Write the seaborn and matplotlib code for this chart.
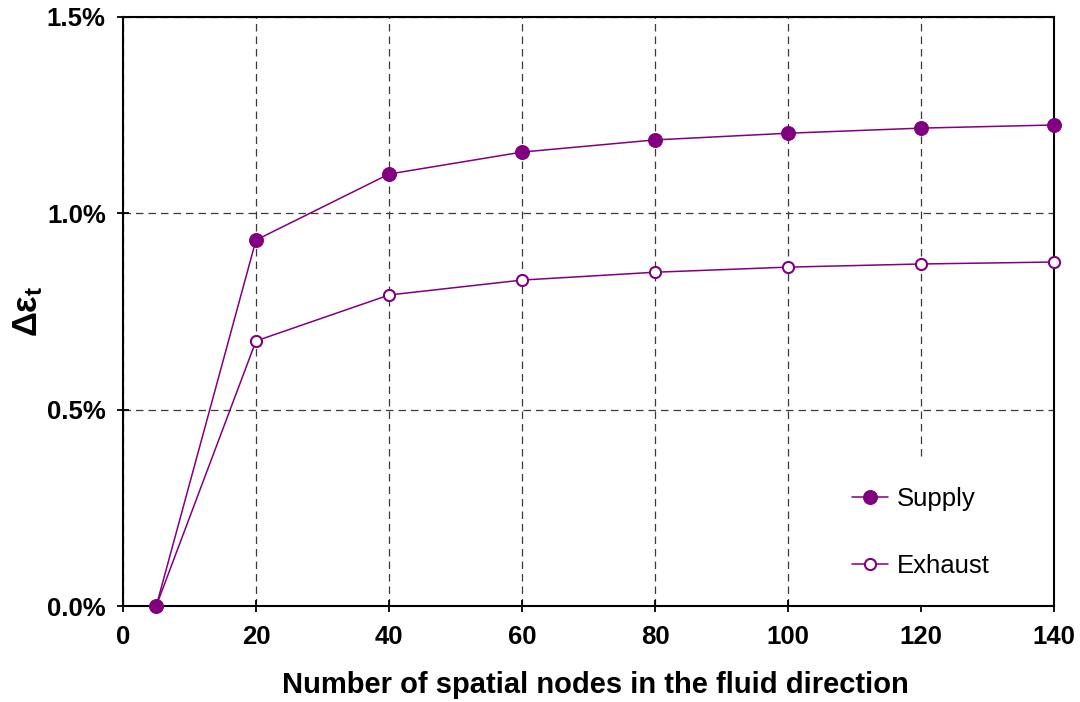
import matplotlib
matplotlib.use("Agg")
import matplotlib.pyplot as plt
from matplotlib.ticker import FuncFormatter
import seaborn as sns
import pandas as pd

# Grid refinement study: change in effectiveness vs. number of nodes
nodes = [5, 20, 40, 60, 80, 100, 120, 140]
supply = [0.0, 0.932, 1.100, 1.156, 1.187, 1.204, 1.217, 1.225]   # %
exhaust = [0.0, 0.675, 0.792, 0.830, 0.850, 0.863, 0.871, 0.876]  # %
x_ticks = [0, 20, 40, 60, 80, 100, 120, 140]
y_ticks = [0.0, 0.5, 1.0, 1.5]

sns.set_style("white")
plt.rcParams["font.family"] = ["Liberation Sans", "DejaVu Sans"]
plt.rcParams["mathtext.fontset"] = "custom"
plt.rcParams["mathtext.rm"] = "Liberation Sans"
plt.rcParams["mathtext.bf"] = "Liberation Sans:bold"
plt.rcParams["mathtext.it"] = "Liberation Sans:italic"
plt.rcParams["text.color"] = "black"
plt.rcParams["axes.labelcolor"] = "black"
plt.rcParams["xtick.color"] = "black"
plt.rcParams["ytick.color"] = "black"

purple = "#800080"

fig = plt.figure(figsize=(10.8, 7.02), dpi=100)
ax = fig.add_axes([123 / 1080, 1 - 606 / 702, (1054 - 123) / 1080, (606 - 17) / 702])

df_s = pd.DataFrame({"nodes": nodes, "value": supply})
df_e = pd.DataFrame({"nodes": nodes, "value": exhaust})

sns.lineplot(data=df_e, x="nodes", y="value", ax=ax, color=purple, lw=1.1,
             marker="o", markersize=8, markerfacecolor="white",
             markeredgecolor=purple, markeredgewidth=1.5, label="Exhaust",
             clip_on=False, zorder=3)
sns.lineplot(data=df_s, x="nodes", y="value", ax=ax, color=purple, lw=1.1,
             marker="o", markersize=10, markerfacecolor=purple,
             markeredgecolor=purple, label="Supply", clip_on=False, zorder=4)

ax.set_xlim(0, 140)
ax.set_ylim(0, 1.5)
ax.set_xticks(x_ticks)
ax.set_yticks(y_ticks)
ax.yaxis.set_major_formatter(FuncFormatter(lambda v, p: f"{v:.1f}%"))

ax.grid(True, color="#3a3a3a", linestyle=(0, (6, 4)), linewidth=0.9)
ax.set_axisbelow(True)

for s in ax.spines.values():
    s.set_visible(True)
    s.set_color("black")
    s.set_linewidth(1.5)

ax.tick_params(axis="both", direction="inout", length=9, width=1.3,
               color="black", labelsize=18.5, bottom=True, left=True)
ax.tick_params(axis="x", pad=9)
ax.tick_params(axis="y", pad=8)
for lbl in ax.get_xticklabels() + ax.get_yticklabels():
    lbl.set_fontweight("bold")

ax.set_xlabel("Number of spatial nodes in the fluid direction",
              fontsize=21, fontweight="bold")
ax.xaxis.set_label_coords(0.507, -0.11)
ax.set_ylabel("Δε$_\\mathbf{t}$", fontsize=25, fontweight="bold")
ax.yaxis.set_label_coords(-0.084, 0.50)

h, l = ax.get_legend_handles_labels()
order = [l.index("Supply"), l.index("Exhaust")]
leg = ax.legend([h[i] for i in order], [l[i] for i in order],
                loc="lower left", bbox_to_anchor=(0.753, 0.0),
                borderaxespad=0, borderpad=1.1, labelspacing=1.65,
                handlelength=1.4, handletextpad=0.35, fontsize=18.5,
                frameon=True, facecolor="white", edgecolor="none",
                framealpha=1, fancybox=False)
leg.set_zorder(2.4)

fig.savefig("out.png", dpi=100)
